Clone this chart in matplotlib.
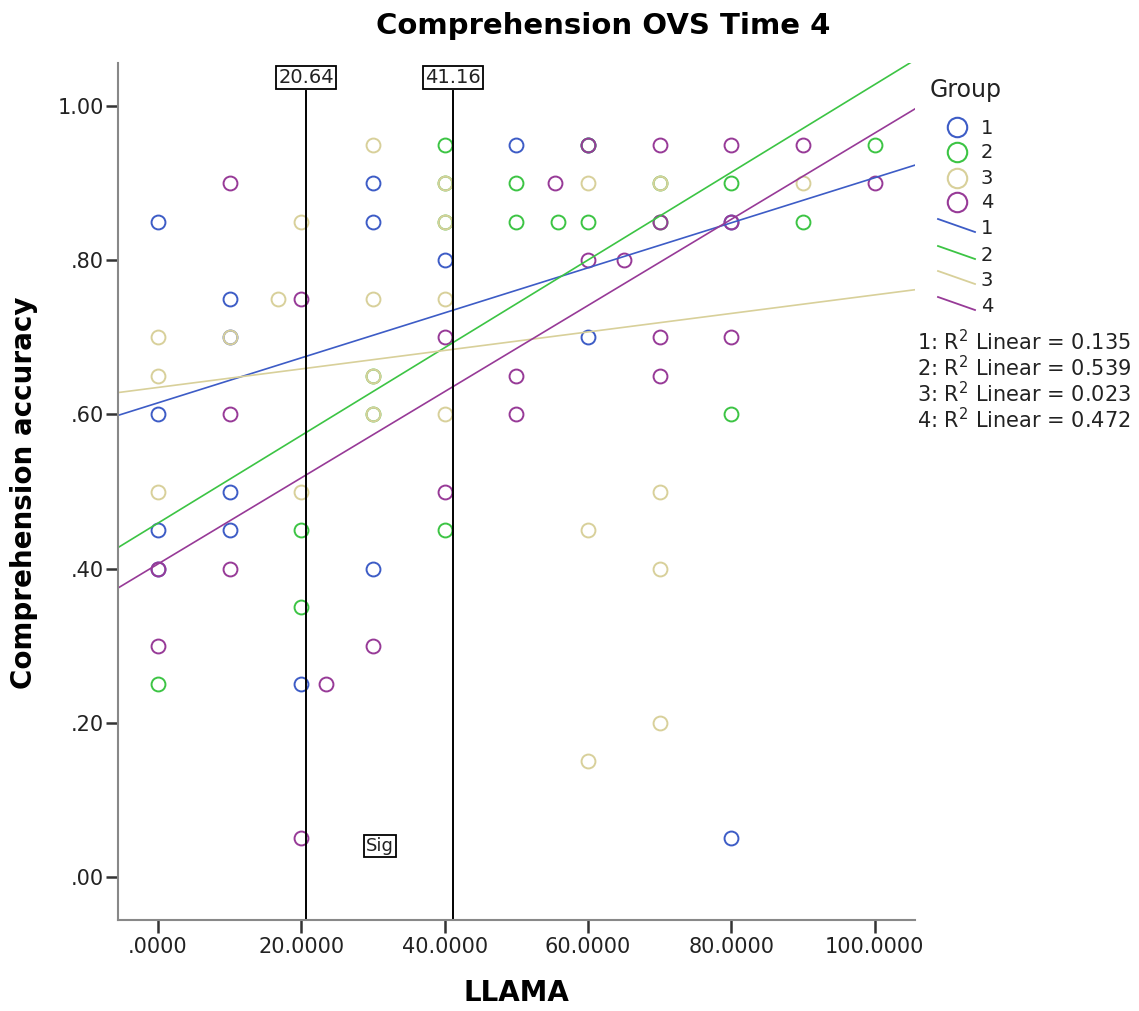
import numpy as np
import matplotlib.pyplot as plt
from matplotlib.lines import Line2D

# points, one pair of lists per group
g1_x = [0, 0, 0, 0, 10, 10, 10, 10, 20, 30, 30, 30, 40, 50, 60, 60, 80, 80]
g1_y = [0.85, 0.60, 0.45, 0.40, 0.75, 0.70, 0.50, 0.45, 0.25, 0.90, 0.85, 0.40, 0.80, 0.95, 0.95, 0.70, 0.85, 0.05]

g2_x = [0, 20, 20, 30, 30, 40, 40, 40, 40, 50, 50, 55.8, 60, 60, 70, 70, 80, 80, 90, 100]
g2_y = [0.25, 0.45, 0.35, 0.65, 0.60, 0.95, 0.90, 0.85, 0.45, 0.90, 0.85, 0.85, 0.95, 0.85, 0.90, 0.85, 0.90, 0.60, 0.85, 0.95]

g3_x = [0, 0, 0, 10, 16.7, 20, 20, 30, 30, 30, 30, 40, 40, 40, 40, 60, 60, 60, 70, 70, 70, 70, 90]
g3_y = [0.70, 0.65, 0.50, 0.70, 0.75, 0.85, 0.50, 0.95, 0.75, 0.65, 0.60, 0.90, 0.85, 0.75, 0.60, 0.90, 0.45, 0.15, 0.90, 0.50, 0.40, 0.20, 0.90]

g4_x = [0, 0, 10, 10, 10, 20, 20, 23.4, 30, 40, 40, 50, 50, 55.4, 60, 60, 65, 70, 70, 70, 70, 80, 80, 80, 90, 100]
g4_y = [0.40, 0.30, 0.90, 0.60, 0.40, 0.75, 0.05, 0.25, 0.30, 0.70, 0.50, 0.65, 0.60, 0.90, 0.95, 0.80, 0.80, 0.95, 0.85, 0.70, 0.65, 0.95, 0.85, 0.70, 0.95, 0.90]

groups = ['1', '2', '3', '4']
colors = ['#3d5cc6', '#3cc444', '#d8d09a', '#973a97']

# fit lines as drawn on the chart (intercept, slope)
fit_intercept = [0.615, 0.459, 0.635, 0.406]
fit_slope = [0.00292, 0.00569, 0.00120, 0.00559]
r2_values = ['0.135', '0.539', '0.023', '0.472']

ref_lines = [20.64, 41.16]

xs = [g1_x, g2_x, g3_x, g4_x]
ys = [g1_y, g2_y, g3_y, g4_y]

W, H = 1139, 1011
fig = plt.figure(figsize=(W / 100, H / 100), dpi=100)
ax = fig.add_axes([118 / W, 1 - 920 / H, 797 / W, 857 / H])


def fx(px):
    return px / W


def fy(py):
    return 1 - py / H


xlim = (-5.58, 105.6)
ylim = (-0.0558, 1.0558)

for x, y, c in zip(xs, ys, colors):
    ax.plot(x, y, linestyle='none', marker='o', markersize=10,
            markerfacecolor='none', markeredgecolor=c, markeredgewidth=1.4)

xx = np.array(xlim)
for b0, b1, c in zip(fit_intercept, fit_slope, colors):
    ax.plot(xx, b0 + b1 * xx, color=c, linewidth=1.2)

for v in ref_lines:
    ax.plot([v, v], [ylim[0], 1.019], color='black', linewidth=1.4)
    ax.text(v, 1.037, f'{v:.2f}', ha='center', va='center', fontsize=14,
            color='#222222',
            bbox=dict(boxstyle='square,pad=0.12', fc='white', ec='black', lw=1.3))

ax.text(31.0, 0.040, 'Sig', ha='center', va='center', fontsize=13,
        color='#222222',
        bbox=dict(boxstyle='square,pad=0.12', fc='white', ec='black', lw=1.3))

ax.set_xlim(*xlim)
ax.set_ylim(*ylim)
ax.set_xticks([0, 20, 40, 60, 80, 100])
ax.set_xticklabels(['.0000', '20.0000', '40.0000', '60.0000', '80.0000', '100.0000'])
ax.set_yticks([0, 0.2, 0.4, 0.6, 0.8, 1.0])
ax.set_yticklabels(['.00', '.20', '.40', '.60', '.80', '1.00'])
ax.tick_params(direction='out', length=9, width=1.8, labelsize=15, color='#333333',
               labelcolor='#222222')
ax.tick_params(axis='y', pad=1)
ax.tick_params(axis='x', pad=3)
for s in ['top', 'right']:
    ax.spines[s].set_visible(False)
for s in ['left', 'bottom']:
    ax.spines[s].set_color('#888888')
    ax.spines[s].set_linewidth(1.5)

fig.text(fx(516), fy(993), 'LLAMA', ha='center', va='center', fontsize=20, fontweight='bold')
fig.text(fx(24), fy(493), 'Comprehension accuracy', ha='center', va='center',
         rotation=90, fontsize=20, fontweight='bold')
fig.text(fx(603), fy(26), 'Comprehension OVS Time 4', ha='center', va='center',
         fontsize=21, fontweight='bold')

# legend, drawn by hand in figure pixels
fig.text(fx(930), fy(90), 'Group', ha='left', va='center', fontsize=17, color='#222222')
marker_rows = [127, 152, 178, 202]
line_rows = [226, 253, 278, 304]
for g, c, r in zip(groups, colors, marker_rows):
    fig.add_artist(Line2D([fx(957)], [fy(r)], linestyle='none', marker='o', markersize=14,
                          markerfacecolor='none', markeredgecolor=c, markeredgewidth=1.5))
    fig.text(fx(981), fy(r + 1), g, ha='left', va='center', fontsize=14, color='#222222')
for g, c, r in zip(groups, colors, line_rows):
    fig.add_artist(Line2D([fx(938), fx(975)], [fy(r - 7), fy(r + 6)], color=c, linewidth=1.3))
    fig.text(fx(981), fy(r + 3), g, ha='left', va='center', fontsize=14, color='#222222')

r2_rows = [342, 368, 394, 420]
for g, r2, r in zip(groups, r2_values, r2_rows):
    fig.text(fx(917), fy(r), f'{g}: R$^2$ Linear = {r2}', fontsize=15,
             ha='left', va='center', color='#222222')

fig.savefig('out.png', dpi=100)
